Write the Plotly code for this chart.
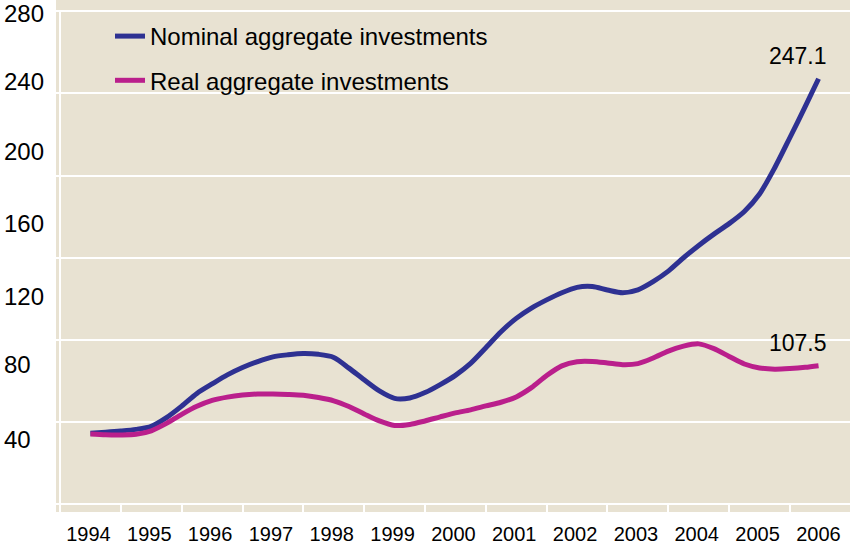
import plotly.graph_objects as go

# ---- data ----
dates = [1994.50, 1994.75, 1995.00, 1995.25, 1995.50, 1995.75, 1996.00, 1996.25,
         1996.50, 1996.75, 1997.00, 1997.25, 1997.50, 1997.75, 1998.00, 1998.25,
         1998.50, 1998.75, 1999.00, 1999.25, 1999.50, 1999.75, 2000.00, 2000.25,
         2000.50, 2000.75, 2001.00, 2001.25, 2001.50, 2001.75, 2002.00, 2002.25,
         2002.50, 2002.75, 2003.00, 2003.25, 2003.50, 2003.75, 2004.00, 2004.25,
         2004.50, 2004.75, 2005.00, 2005.25, 2005.50, 2005.75, 2006.00, 2006.25,
         2006.47]

nominal = [74.6, 75.1, 75.7, 76.5, 78.0, 82.2, 87.8, 94.0,
           98.6, 103.0, 106.6, 109.5, 111.8, 112.8, 113.4, 113.0,
           111.5, 106.3, 100.6, 95.2, 91.6, 91.8, 94.4, 98.3,
           102.8, 108.6, 116.2, 124.0, 130.5, 135.5, 139.5, 143.0,
           145.6, 146.0, 144.3, 143.0, 144.4, 148.4, 153.5, 160.0,
           166.0, 171.5, 176.6, 182.5, 191.0, 203.8, 218.5, 233.5,
           247.1]

real = [74.3, 73.9, 73.8, 74.1, 75.8, 79.4, 83.8, 87.7,
        90.6, 92.2, 93.2, 93.7, 93.7, 93.5, 93.1, 92.0,
        90.4, 87.6, 84.0, 80.6, 78.4, 78.9, 80.6, 82.6,
        84.5, 86.0, 87.9, 89.7, 92.3, 96.8, 102.7, 107.4,
        109.4, 109.5, 108.8, 108.0, 108.5, 111.2, 114.6, 117.0,
        118.1, 115.8, 112.0, 108.3, 106.4, 105.8, 106.1, 106.7,
        107.5]

series_names = ["Nominal aggregate investments", "Real aggregate investments"]
end_labels = ["247.1", "107.5"]

years = list(range(1994, 2007))
year_labels = [str(y) for y in years]
grid_values = [40, 80, 120, 160, 200, 240, 280]
ytick_labels = ["280", "240", "200", "160", "120", "80", "40"]
# where the (offset) labels sit in the original, in data units
ytick_label_pos = [278.6, 245.7, 211.9, 176.7, 141.2, 107.9, 71.6]

# ---- style ----
BG = "#E8E2D2"
BLUE = "#2E3192"
MAGENTA = "#BA1F8C"
FONT = "Liberation Sans, Arial, Helvetica, sans-serif"
X_RANGE = [1993.934, 2006.987]
Y_RANGE = [36.3, 285.4]

fig = go.Figure()
for i, (vals, col) in enumerate([(nominal, BLUE), (real, MAGENTA)]):
    fig.add_trace(go.Scatter(
        x=dates, y=vals, mode="lines", name=series_names[i],
        legendgroup=f"g{i}",
        line=dict(color=col, width=5, shape="spline", smoothing=0.8),
    ))
    fig.add_annotation(
        x=dates[-1], y=vals[-1], text=end_labels[i], showarrow=False,
        xanchor="center", yanchor="bottom", xshift=-21, yshift=8,
        font=dict(family=FONT, size=23, color="black"),
    )

# y tick labels (left aligned, as in the original)
for lab, pos in zip(ytick_labels, ytick_label_pos):
    fig.add_annotation(
        x=0, xref="paper", y=pos, yref="y", text=lab, showarrow=False,
        xanchor="left", yanchor="middle", xshift=-54,
        font=dict(family=FONT, size=24, color="black"),
    )

# left white vertical rule at the first year
fig.add_shape(type="line", xref="x", yref="y",
              x0=years[0], x1=years[0], y0=Y_RANGE[0], y1=grid_values[-1],
              line=dict(color="white", width=2), layer="below")

fig.update_layout(
    width=850, height=545,
    margin=dict(l=56, r=0, t=0, b=33),
    paper_bgcolor="white", plot_bgcolor=BG,
    font=dict(family=FONT, color="black"),
    showlegend=True,
    legend=dict(
        x=(110 - 56) / 794, y=1 - 14 / 512, xanchor="left", yanchor="top",
        bgcolor="rgba(0,0,0,0)", font=dict(family=FONT, size=24, color="black"),
        traceorder="grouped", tracegroupgap=10,
    ),
    xaxis=dict(
        range=X_RANGE, tickmode="array",
        tickvals=[y + 0.5 for y in years], ticktext=year_labels,
        ticks="", showgrid=False, zeroline=False, showline=False,
        ticklabelstandoff=8, ticklabelshift=-2,
        tickfont=dict(family=FONT, size=20, color="black"),
        minor=dict(tickmode="array", tickvals=years + [years[-1] + 1],
                   ticks="inside", ticklen=7, tickwidth=2, tickcolor="white",
                   showgrid=False),
    ),
    yaxis=dict(
        range=Y_RANGE, tickmode="array", tickvals=grid_values,
        showticklabels=False, ticks="", showgrid=True,
        gridcolor="white", gridwidth=2, zeroline=False, showline=False,
    ),
)

fig.write_html("out.html", config={"displayModeBar": False},
               post_script="document.body.style.margin='0';document.body.style.padding='0';")
